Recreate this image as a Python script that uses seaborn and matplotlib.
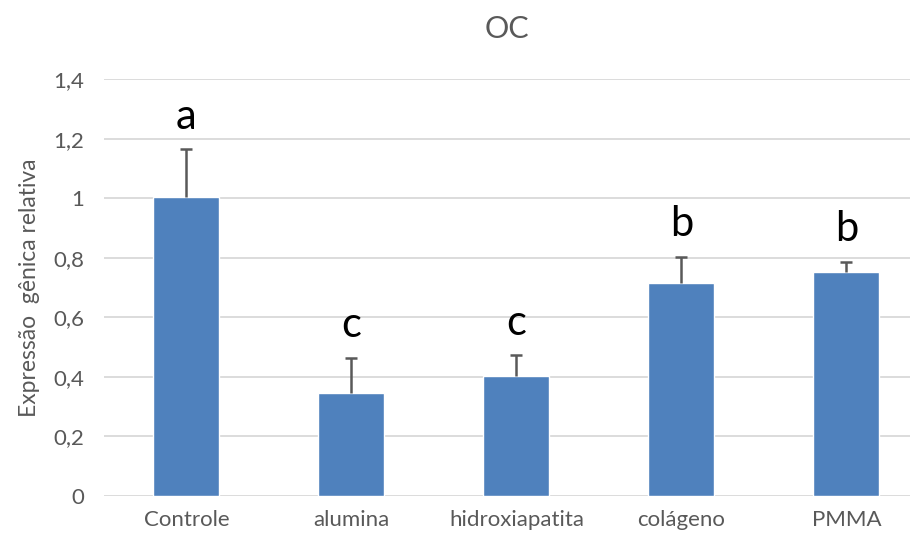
import matplotlib
matplotlib.use('Agg')
from matplotlib import pyplot as plt
import numpy as np
import pandas as pd
import seaborn as sns

groups = ["Controle", "alumina", "hidroxiapatita", "colágeno", "PMMA"]
means = [1.005, 0.347, 0.403, 0.717, 0.752]
errors = [0.160, 0.117, 0.070, 0.087, 0.035]
letters = ["a", "c", "c", "b", "b"]

df = pd.DataFrame({"grupo": groups, "expr": means})

sns.set_style("white")
plt.rcParams['font.family'] = ['Lato', 'DejaVu Sans']

fig = plt.figure(figsize=(9.12, 5.38), dpi=100)
ax = fig.add_axes([104 / 912, 1 - 496 / 538, 806 / 912, (496 - 79.3) / 538])

sns.barplot(data=df, x="grupo", y="expr", color="#4F81BD", saturation=1,
            width=0.4, errorbar=None, ax=ax, zorder=3)

# only the upper half of the error bar, as in the original
x = np.arange(len(groups))
eb = ax.errorbar(x, means, yerr=[np.zeros(len(errors)), errors], fmt="none",
                 ecolor="#595959", elinewidth=1.8, capsize=4.5, capthick=1.8, zorder=4)
eb[1][0].set_visible(False)

for xi, m, e, lab in zip(x, means, errors, letters):
    ax.text(xi, m + e + 0.045, lab, ha="center", va="bottom", fontsize=30, color="black")

ax.set_ylim(0, 1.4)
ax.set_xlim(-0.5, 4.385)
ax.set_yticks(np.arange(0, 1.41, 0.2))
ax.set_yticklabels(["0", "0,2", "0,4", "0,6", "0,8", "1", "1,2", "1,4"])
ax.yaxis.grid(True, color="#D9D9D9", linewidth=1.3, zorder=0)
ax.set_axisbelow(True)
for s in ["top", "right", "left", "bottom"]:
    ax.spines[s].set_visible(False)
ax.tick_params(axis="both", length=0, labelsize=16, colors="#595959")
ax.tick_params(axis="x", pad=10)
ax.tick_params(axis="y", pad=14)
ax.set_xlabel("")
ax.set_ylabel("Expressão  gênica relativa", fontsize=16.5, color="#595959", labelpad=10)
ax.set_title("OC", fontsize=22, color="#595959", pad=30)

fig.savefig("out.png", dpi=100)
